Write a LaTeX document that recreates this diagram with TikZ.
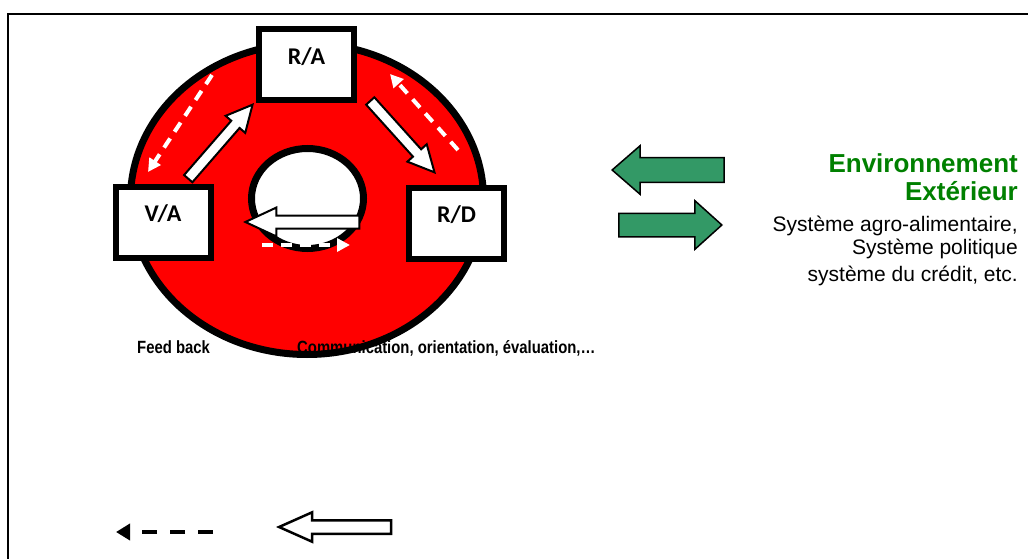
\documentclass[tikz,border=0pt]{standalone}
\usepackage{fontspec}
\setmainfont{Liberation Sans}
\newfontfamily\boxfont{Carlito}
\newfontfamily\narrowfont[FakeStretch=0.84]{Liberation Sans}
\usetikzlibrary{shapes.geometric,shapes.arrows,arrows.meta}

\definecolor{ringred}{RGB}{255,0,0}
\definecolor{arrowgreen}{RGB}{51,153,102}
\definecolor{titlegreen}{RGB}{0,128,0}

\tikzset{
    statebox/.style={draw, line width=6pt, fill=white, minimum width=95pt, minimum height=71pt,
        inner sep=0pt, text height=15pt, text depth=16pt,
        font=\boxfont\bfseries\fontsize{24}{26}\selectfont},
    blockarrow/.style={single arrow, draw, line width=2pt, fill=white, inner xsep=0pt, anchor=tip},
    whitedash/.style={draw=white, line width=4pt, dash pattern=on 11pt off 8pt,
        -{Triangle[length=13pt,width=13pt]}},
    notetext/.style={anchor=base west, inner sep=0pt,
        font=\narrowfont\bfseries\fontsize{17.7}{20}\selectfont},
}

\begin{document}
\begin{tikzpicture}[x=1pt, y=-1pt]
    \useasboundingbox (0,0) rectangle (1028,559);
    \draw[line width=2.5pt] (8,559) -- (8,14) -- (1028,14);

    % the ring
    \node[ellipse, draw, line width=7pt, fill=ringred, minimum width=353pt, minimum height=311pt] (ring) at (307,199) {};
    \node[ellipse, draw, line width=7pt, fill=white, minimum width=112pt, minimum height=100pt] (hub) at (307.5,198.5) {};

    \node[notetext] (feedback) at (137,353) {Feed back};
    \node[notetext] (communication) at (297,353) {Communication, orientation, évaluation,…};

    % flows between the poles
    \node[blockarrow, minimum height=98pt, inner ysep=4.5pt, single arrow head extend=7.5pt,
        single arrow tip angle=53, rotate=49] (vatora) at (254,103) {};
    \node[blockarrow, minimum height=96pt, inner ysep=4.5pt, single arrow head extend=7.5pt,
        single arrow tip angle=53, rotate=-48] (ratord) at (436,174) {};
    \node[blockarrow, minimum height=114pt, inner ysep=5.5pt, single arrow head extend=8pt,
        single arrow tip angle=50, rotate=180] (rdtova) at (243,222) {};

    \coordinate (fbraout) at (212,75);
    \coordinate (fbvain) at (148,172);
    \coordinate (fbrdout) at (458,150);
    \coordinate (fbrain) at (390,74);
    \coordinate (fbvaout) at (262,245);
    \coordinate (fbrdin) at (350,245);
    \draw[whitedash] (fbraout) -- (fbvain);
    \draw[whitedash] (fbrdout) -- (fbrain);
    \draw[whitedash] (fbvaout) -- (fbrdin);

    \node[statebox] (ra) at (306.5,65) {R/A};
    \node[statebox] (va) at (163,222) {V/A};
    \node[statebox] (rd) at (456.5,223) {R/D};

    % exchanges with the environment
    \node[blockarrow, fill=arrowgreen, line width=1.5pt, minimum height=112pt, inner ysep=11.5pt,
        single arrow head extend=12pt, single arrow tip angle=82, rotate=180] (envin) at (611,170) {};
    \node[blockarrow, fill=arrowgreen, line width=1.5pt, minimum height=103pt, inner ysep=11pt,
        single arrow head extend=12.5pt, single arrow tip angle=84] (envout) at (723,225) {};

    \node[anchor=base east, align=right, inner sep=0pt, text=titlegreen,
        font=\bfseries\fontsize{26}{28}\selectfont] (envtitle) at (1018,200) {Environnement\\Extérieur};
    \node[anchor=base east, align=right, inner sep=0pt,
        font=\fontsize{21}{23}\selectfont] (envlist) at (1018,281)
        {Système agro-alimentaire,\\Système politique\\[4pt]système du crédit, etc.};

    % legend
    \coordinate (legdashfrom) at (213,532);
    \coordinate (legdashto) at (116,532);
    \draw[line width=4.5pt, dash pattern=on 15pt off 13pt, -{Triangle[length=14pt,width=16pt]}] (legdashfrom) -- (legdashto);
    \node[blockarrow, line width=2.5pt, minimum height=112pt, inner ysep=5.5pt, single arrow head extend=8pt,
        single arrow tip angle=48, rotate=180] (leghollow) at (276,527) {};
\end{tikzpicture}
\end{document}
